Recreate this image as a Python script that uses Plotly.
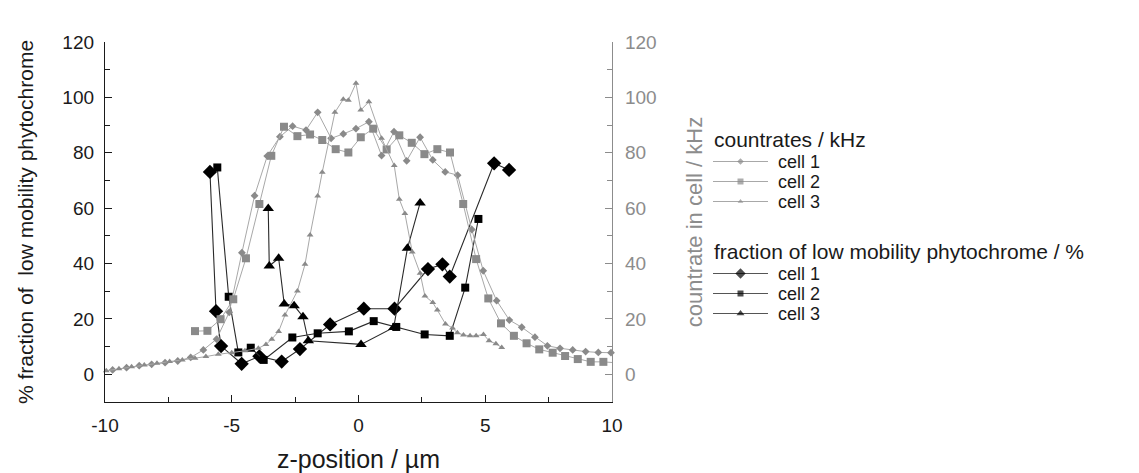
import plotly.graph_objects as go

# ---- count rates in the cell (kHz), grey, right axis ----
z_cr1 = [-9.7, -9.15, -8.65, -8.16, -7.63, -7.13, -6.62, -6.12, -5.6, -5.1, -4.6, -4.1, -3.6, -3.1,
         -2.6, -2.07, -1.61, -1.08, -0.6, -0.1, 0.41, 0.91, 1.4, 1.9, 2.43, 2.93, 3.42, 3.91, 4.47,
         4.92, 5.45, 5.95, 6.44, 6.96, 7.45, 7.95, 8.45, 8.96, 9.46, 9.96]
cr_cell1 = [1.6, 2.4, 3.1, 3.6, 4.2, 4.8, 6.1, 8.8, 12.7, 22.4, 43.9, 64.5, 78.8, 85.8,
            89.6, 88.2, 94.6, 85.2, 86.8, 88.7, 91.2, 79.0, 87.6, 77.1, 85.6, 77.4, 73.1, 71.9, 52.3,
            37.4, 26.6, 19.6, 17.0, 13.4, 10.3, 9.4, 8.8, 8.2, 7.9, 7.8]

z_cr2 = [-6.45, -5.96, -5.44, -4.94, -4.44, -3.91, -3.44, -2.94, -2.41, -1.91, -1.43, -0.9, -0.4,
         0.09, 0.58, 1.11, 1.61, 2.1, 2.6, 3.11, 3.61, 4.13, 4.64, 5.12, 5.62, 6.13, 6.63, 7.13,
         7.66, 8.15, 8.65, 9.16, 9.66, 10.1]
cr_cell2 = [15.6, 15.7, 19.9, 27.1, 41.9, 61.5, 78.9, 89.4, 86.0, 86.6, 84.6, 81.3, 80.1,
            85.6, 88.7, 81.2, 86.3, 83.6, 79.5, 81.3, 80.1, 61.5, 41.6, 27.4, 18.4, 13.9, 11.2, 9.0,
            7.8, 6.6, 5.5, 4.5, 4.5, 4.2]

z_cr3 = [-9.95, -9.45, -8.95, -8.45, -7.95, -7.45, -6.95, -6.45, -6.02, -5.53, -5.0, -4.48, -3.95,
         -3.65, -3.42, -3.15, -2.9, -2.41, -2.11, -1.91, -1.61, -1.43, -0.93, -0.6, -0.4, -0.1,
         0.09, 0.41, 0.91, 1.41, 1.61, 1.83, 2.12, 2.43, 2.62, 2.93, 3.11, 3.43, 3.71, 3.9, 4.14,
         4.4, 4.64, 4.93, 5.15, 5.42, 5.65]
cr_cell3 = [1.3, 2.0, 2.7, 3.4, 4.0, 4.6, 5.2, 5.8, 6.4, 7.2, 7.8, 8.5, 9.4,
            10.8, 12.7, 15.5, 21.4, 30.1, 39.7, 50.3, 64.4, 73.0, 94.6, 99.3, 99.0, 105.1,
            95.4, 98.4, 85.2, 75.4, 63.2, 58.1, 44.2, 36.5, 28.3, 25.9, 23.2, 18.2, 16.7, 15.0, 14.2,
            13.9, 13.9, 14.4, 12.1, 11.0, 9.7]

# ---- fraction of low mobility phytochrome (%), black, left axis ----
z_fr1 = [-5.86, -5.62, -5.42, -4.61, -3.91, -3.03, -2.31, -1.12, 0.21, 1.42, 2.74, 3.31, 3.6, 5.35, 5.94]
fr_cell1 = [73.1, 22.8, 10.2, 3.8, 6.5, 4.6, 9.1, 18.0, 23.7, 23.7, 38.0, 39.7, 35.3, 76.2, 73.8]

z_fr2 = [-5.57, -5.12, -4.74, -4.25, -3.74, -2.61, -1.61, -0.38, 0.6, 1.49, 2.61, 3.6, 4.21, 4.73]
fr_cell2 = [74.7, 28.0, 7.9, 9.6, 5.2, 13.3, 14.8, 15.5, 19.2, 17.1, 14.4, 13.9, 31.3, 56.1]

z_fr3 = [-3.56, -3.52, -3.15, -2.93, -2.54, -2.19, -1.98, 0.1, 1.39, 1.93, 2.43]
fr_cell3 = [59.9, 39.1, 41.9, 25.4, 24.8, 20.8, 12.1, 10.8, 16.9, 45.5, 61.9]

# ---- tick labels ----
z_tick_vals = [-10, -5, 0, 5, 10]
z_tick_text = ["-10", "-5", "0", "5", "10"]

cell_names = ["cell 1", "cell 2", "cell 3"]
group_titles = ["countrates / kHz", "fraction of low mobility phytochrome / %"]

FONT = "Liberation Sans, Arial, Helvetica, sans-serif"
GREY_MK = "#8a8a8a"
GREY_LN = "#a8a8a8"
GREY_AX = "#8c8c8c"
BLACK_LN = "#2a2a2a"

cr_styles = [("diamond", 6), ("square", 8), ("triangle-up", 6)]
fr_styles = [("diamond", 11), ("square", 8), ("triangle-up", 10)]

fig = go.Figure()

for (z, v), (sym, sz) in zip([(z_cr1, cr_cell1), (z_cr2, cr_cell2), (z_cr3, cr_cell3)], cr_styles):
    fig.add_trace(go.Scatter(
        x=z, y=v, mode="lines+markers", xaxis="x", yaxis="y2",
        line=dict(color=GREY_LN, width=1),
        marker=dict(symbol=sym, size=sz, color=GREY_MK, line=dict(width=0)),
        showlegend=False, cliponaxis=False))

for (z, v), (sym, sz) in zip([(z_fr1, fr_cell1), (z_fr2, fr_cell2), (z_fr3, fr_cell3)], fr_styles):
    fig.add_trace(go.Scatter(
        x=z, y=v, mode="lines+markers", xaxis="x", yaxis="y",
        line=dict(color=BLACK_LN, width=1.1),
        marker=dict(symbol=sym, size=sz, color="black", line=dict(width=0)),
        showlegend=False, cliponaxis=False))

# ---- hand-drawn legend on a hidden pixel-scaled axis pair ----
W, H = 1139, 473
M_L, M_R, M_T, M_B = 105, 9, 42, 71
plot_w = W - M_L - M_R
main_right = (612 - M_L) / plot_w

leg_x0, leg_x1 = 700, W - M_R
sample_x = [713, 740.5, 768]
text_x = 776
title_rows = [139, 251]
first_gap = 22.5
row_gap = 20
annotations = []
for g, (title, styles, ln_col, mk_col, legend_mk) in enumerate([
        (group_titles[0], cr_styles, GREY_LN, GREY_MK, [5, 6, 5]),
        (group_titles[1], fr_styles, "#555555", "black", [8, 6, 7])]):
    ty = title_rows[g]
    annotations.append(dict(x=712, y=ty, xref="x3", yref="y3", text=title, showarrow=False,
                            xanchor="left", yanchor="middle",
                            font=dict(family=FONT, size=21, color="#1a1a1a")))
    for i, name in enumerate(cell_names):
        ry = ty + first_gap + row_gap * i
        fig.add_trace(go.Scatter(
            x=sample_x, y=[ry] * 3, mode="lines+markers", xaxis="x3", yaxis="y3",
            line=dict(color=ln_col, width=1),
            marker=dict(symbol=styles[i][0], size=[0, legend_mk[i], 0], color=mk_col,
                        line=dict(width=0)),
            showlegend=False, hoverinfo="skip"))
        annotations.append(dict(x=text_x, y=ry, xref="x3", yref="y3", text=name, showarrow=False,
                                xanchor="left", yanchor="middle",
                                font=dict(family=FONT, size=18, color="#1a1a1a")))

axis_common = dict(showgrid=False, zeroline=False, ticks="inside", ticklen=7, tickwidth=1.2,
                   showline=True, linewidth=1.3, automargin=False)

fig.update_layout(
    width=W, height=H,
    margin=dict(l=M_L, r=M_R, t=M_T, b=M_B, pad=0),
    paper_bgcolor="white", plot_bgcolor="white",
    font=dict(family=FONT, size=19, color="#1a1a1a"),
    showlegend=False,
    xaxis=dict(domain=[0, main_right], range=[-10, 10], tickmode="array",
               tickvals=z_tick_vals, ticktext=z_tick_text,
               linecolor="#1a1a1a", tickcolor="#1a1a1a", ticklabelstandoff=6,
               minor=dict(ticks="inside", ticklen=5, dtick=2.5, tick0=-10, tickcolor="#1a1a1a"),
               title=dict(text="z-position / µm", font=dict(size=25), standoff=17),
               tickfont=dict(size=19), anchor="y", **axis_common),
    yaxis=dict(range=[-10, 120], tickmode="linear", tick0=0, dtick=20,
               linecolor="#1a1a1a", tickcolor="#1a1a1a", ticklabelstandoff=6,
               minor=dict(ticks="inside", ticklen=5, dtick=10, tick0=0, tickcolor="#1a1a1a"),
               title=dict(text="% fraction of  low mobility phytochrome", font=dict(size=21),
                          standoff=22),
               tickfont=dict(size=19), anchor="x", **axis_common),
    yaxis2=dict(range=[-10, 120], tickmode="linear", tick0=0, dtick=20, overlaying="y",
                side="right", anchor="x", linecolor=GREY_AX, tickcolor=GREY_AX,
                ticklabelstandoff=8,
                minor=dict(ticks="inside", ticklen=5, dtick=10, tick0=0, tickcolor=GREY_AX),
                title=dict(text="countrate in cell / kHz", font=dict(size=22, color=GREY_AX),
                           standoff=30),
                tickfont=dict(size=19, color=GREY_AX), **axis_common),
    xaxis3=dict(domain=[(leg_x0 - M_L) / plot_w, 1], range=[leg_x0, leg_x1], visible=False,
                fixedrange=True, anchor="y3"),
    yaxis3=dict(domain=[0, 1], range=[H - M_B, M_T], visible=False, fixedrange=True,
                anchor="x3"),
    annotations=annotations,
)

fig.write_html("out.html")
